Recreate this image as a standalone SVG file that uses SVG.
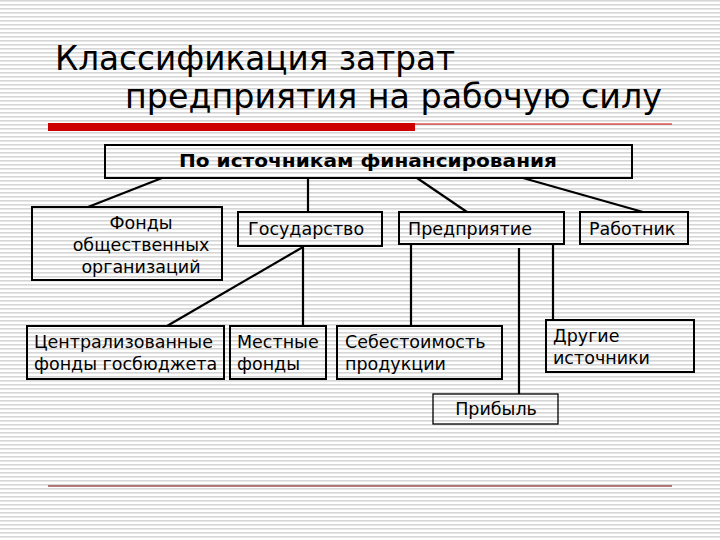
<svg xmlns="http://www.w3.org/2000/svg" width="720" height="540" viewBox="0 0 720 540">
<defs>
<pattern id="stripes" x="0" y="0" width="8" height="4" patternUnits="userSpaceOnUse">
<rect x="0" y="0" width="8" height="4" fill="#ffffff"/>
<rect x="0" y="0" width="8" height="1.6" fill="#d6d6d6"/>
</pattern>
<style>
.box{fill:none;stroke:#000;stroke-width:2}
.thin{fill:none;stroke:#000;stroke-width:1.3}
.t{font-family:"DejaVu Sans","Verdana",sans-serif;font-size:17.5px;fill:#000}
.title{font-family:"DejaVu Sans Condensed","DejaVu Sans",sans-serif;font-size:34px;fill:#000}
.hdr{font-family:"DejaVu Sans","Verdana",sans-serif;font-size:17px;font-weight:bold;fill:#000}
.c{stroke:#000;stroke-width:2.2;fill:none}
</style>
</defs>
<rect width="720" height="540" fill="url(#stripes)"/>
<g id="title">
<text class="title" x="55" y="70" textLength="400" lengthAdjust="spacingAndGlyphs">Классификация затрат</text>
<text class="title" x="125" y="108" textLength="537" lengthAdjust="spacingAndGlyphs">предприятия на рабочую силу</text>
<rect x="48" y="123" width="367" height="8" fill="#cc0000"/>
<line x1="415" y1="124" x2="672" y2="124" stroke="#cc0000" stroke-width="1"/>
<line x1="48" y1="486" x2="672" y2="486" stroke="#6a0000" stroke-width="1.2"/>
</g>
<g id="connectors">
<line class="c" x1="162" y1="178" x2="88" y2="207"/>
<line class="c" x1="308" y1="178" x2="308" y2="212"/>
<line class="c" x1="417" y1="178" x2="467" y2="212"/>
<line class="c" x1="523" y1="178" x2="643" y2="212"/>
<line class="c" x1="303" y1="247" x2="167" y2="326"/>
<line class="c" x1="303" y1="247" x2="303" y2="326"/>
<line class="c" x1="411" y1="244" x2="411" y2="326"/>
<line class="c" x1="519" y1="248" x2="519" y2="394"/>
<line class="c" x1="553" y1="244" x2="553" y2="320"/>
</g>
<g id="n-header">
<rect class="box" x="105" y="145" width="527" height="33"/>
<text class="hdr" x="368" y="167" text-anchor="middle" textLength="378" lengthAdjust="spacingAndGlyphs">По источникам финансирования</text>
</g>
<g id="n-fondy">
<rect class="box" x="32" y="207" width="190" height="73"/>
<text class="t" x="141" y="229" text-anchor="middle">Фонды</text>
<text class="t" x="141" y="251" text-anchor="middle">общественных</text>
<text class="t" x="141" y="273" text-anchor="middle">организаций</text>
</g>
<g id="n-gos">
<rect class="box" x="238" y="212" width="144" height="34"/>
<text class="t" x="248" y="235">Государство</text>
</g>
<g id="n-pred">
<rect class="box" x="399" y="212" width="165" height="32"/>
<text class="t" x="408" y="235">Предприятие</text>
</g>
<g id="n-rab">
<rect class="box" x="580" y="212" width="108" height="32"/>
<text class="t" x="589" y="235">Работник</text>
</g>
<g id="n-central">
<rect class="box" x="27" y="326" width="197" height="53"/>
<text class="t" x="34" y="348">Централизованные</text>
<text class="t" x="34" y="370">фонды госбюджета</text>
</g>
<g id="n-mest">
<rect class="box" x="230" y="326" width="96" height="53"/>
<text class="t" x="237" y="348">Местные</text>
<text class="t" x="237" y="370">фонды</text>
</g>
<g id="n-seb">
<rect class="box" x="337" y="326" width="165" height="53"/>
<text class="t" x="345" y="348">Себестоимость</text>
<text class="t" x="345" y="370">продукции</text>
</g>
<g id="n-drug">
<rect class="box" x="546" y="320" width="148" height="52"/>
<text class="t" x="553" y="342">Другие</text>
<text class="t" x="553" y="364">источники</text>
</g>
<g id="n-prib">
<rect class="thin" x="433" y="394" width="125" height="30"/>
<text class="t" x="496" y="415" text-anchor="middle">Прибыль</text>
</g>
</svg>
